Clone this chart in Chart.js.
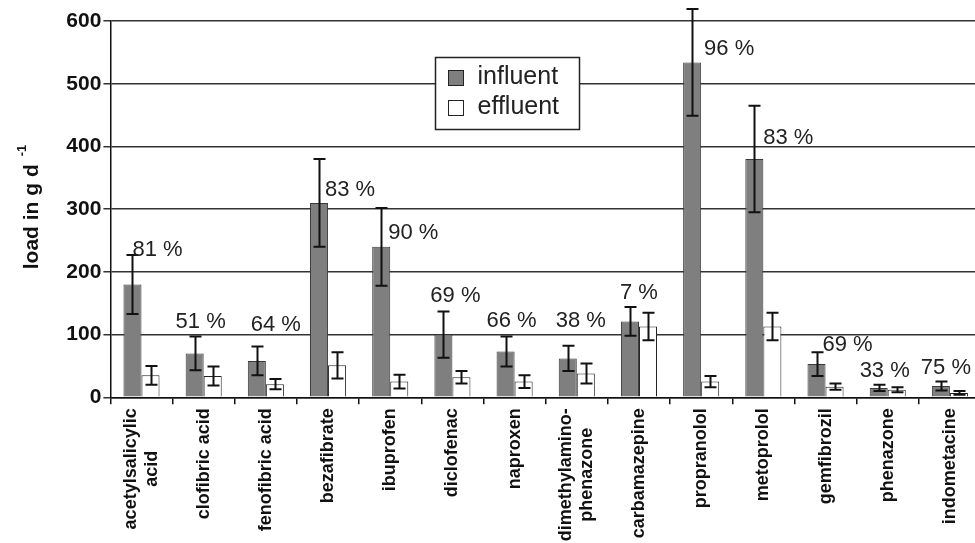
<!DOCTYPE html>
<html>
<head>
<meta charset="utf-8">
<script src="https://cdn.jsdelivr.net/npm/chart.js@4.4.1/dist/chart.umd.min.js"></script>
<style>
  html, body { margin: 0; padding: 0; background: #fff; overflow: hidden; }
  canvas { display: block; }
</style>
</head>
<body>
<canvas id="chart" width="981" height="543"></canvas>
<script>
// Daily loads (g/d) of pharmaceuticals in sewage treatment plant influent and effluent
const compounds = [
  ['acetylsalicylic', 'acid'], 'clofibric acid', 'fenofibric acid', 'bezafibrate',
  'ibuprofen', 'diclofenac', 'naproxen', ['dimethylamino-', 'phenazone'],
  'carbamazepine', 'propranolol', 'metoprolol', 'gemfibrozil', 'phenazone', 'indometacine'
];
const influent    = [180, 70, 58, 310, 240, 100, 73, 62, 121, 534, 380, 53, 15, 18];
const influentSd  = [ 47, 27, 23,  70,  62,  37, 24, 20,  23,  85,  85, 19,  5,  7];
const effluent    = [ 35, 34, 21,  51,  25,  32, 25, 38, 113,  25, 113, 17, 12,  7];
const effluentSd  = [ 15, 15,  8,  21,  11,  10, 10, 16,  22,   9,  22,  5,  4,  3];
const removal     = [ 81, 51, 64,  83,  90,  69, 66, 38,   7,  96,  83, 69, 33, 75];
const yTicks      = [0, 100, 200, 300, 400, 500, 600];

// placement of each removal label relative to the influent bar / top of its error bar
const removalLabelOffsets = [
  [25, -5], [6, -15], [19, -22], [31, 31], [32, 25], [12, -15], [6, -16],
  [13, -25], [9, -14], [37, 40], [34, 32], [31, -7], [6, -14], [5, -14]
];

const FONT = "'Liberation Sans', Arial, Helvetica, sans-serif";

// influent bars: grey with slightly lighter edges
function influentFill(context) {
  const el = context.element;
  if (!el || !isFinite(el.x) || !isFinite(el.width)) return '#7f7f7f';
  const g = context.chart.ctx.createLinearGradient(el.x - el.width / 2, 0, el.x + el.width / 2, 0);
  g.addColorStop(0, '#a4a4a4');
  g.addColorStop(0.2, '#848484');
  g.addColorStop(0.5, '#787878');
  g.addColorStop(0.8, '#848484');
  g.addColorStop(1, '#a4a4a4');
  return g;
}

const errorBars = {
  id: 'errorBars',
  afterDatasetsDraw(chart) {
    const { ctx } = chart;
    const y = chart.scales.y;
    const errs = [influentSd, effluentSd];
    ctx.save();
    ctx.strokeStyle = '#111';
    ctx.lineWidth = 2;
    chart.data.datasets.forEach((ds, di) => {
      const meta = chart.getDatasetMeta(di);
      meta.data.forEach((bar, i) => {
        const v = ds.data[i], e = errs[di][i];
        const top = y.getPixelForValue(v + e);
        const bot = y.getPixelForValue(Math.max(0, v - e));
        const x = Math.round(bar.x) + 0.5;
        ctx.beginPath();
        ctx.moveTo(x, top); ctx.lineTo(x, bot);
        ctx.moveTo(x - 6, top); ctx.lineTo(x + 6, top);
        ctx.moveTo(x - 6, bot); ctx.lineTo(x + 6, bot);
        ctx.stroke();
      });
    });
    ctx.restore();
  }
};

const removalLabels = {
  id: 'removalLabels',
  afterDatasetsDraw(chart) {
    const { ctx } = chart;
    const y = chart.scales.y;
    const meta = chart.getDatasetMeta(0);
    ctx.save();
    ctx.font = `22px ${FONT}`;
    ctx.fillStyle = '#222';
    ctx.textAlign = 'center';
    ctx.textBaseline = 'middle';
    removal.forEach((r, i) => {
      const bar = meta.data[i];
      const [dx, dy] = removalLabelOffsets[i];
      const top = y.getPixelForValue(influent[i] + influentSd[i]);
      ctx.fillText(`${r} %`, bar.x + dx, top + dy);
    });
    ctx.restore();
  }
};

const boxedLegend = {
  id: 'boxedLegend',
  afterDraw(chart) {
    const { ctx } = chart;
    const box = { x: 435.5, y: 57.5, w: 144, h: 72 };
    ctx.save();
    ctx.fillStyle = '#fff';
    ctx.fillRect(box.x, box.y, box.w, box.h);
    ctx.strokeStyle = '#222';
    ctx.lineWidth = 1.5;
    ctx.strokeRect(box.x, box.y, box.w, box.h);
    ctx.font = `25px ${FONT}`;
    ctx.textBaseline = 'middle';
    ctx.textAlign = 'left';
    const swatches = ['#7f7f7f', '#ffffff'];
    chart.data.datasets.forEach((ds, i) => {
      const cy = box.y + 20 + i * 30;
      ctx.fillStyle = swatches[i];
      ctx.fillRect(box.x + 13, cy - 7, 15, 15);
      ctx.strokeStyle = '#222';
      ctx.lineWidth = 1;
      ctx.strokeRect(box.x + 13, cy - 7, 15, 15);
      ctx.fillStyle = '#222';
      ctx.fillText(ds.label, box.x + 42, cy);
    });
    ctx.restore();
  }
};

const axisTitle = {
  id: 'axisTitle',
  afterDraw(chart) {
    const { ctx } = chart;
    const main = 'load in g d';
    const sup = '-1';
    ctx.save();
    ctx.fillStyle = '#111';
    ctx.font = `bold 21px ${FONT}`;
    const w1 = ctx.measureText(main).width;
    ctx.font = `bold 13px ${FONT}`;
    const w2 = ctx.measureText(sup).width;
    const gap = 8;
    const total = w1 + gap + w2;
    const cy = 207;
    ctx.translate(38, cy + total / 2);
    ctx.rotate(-Math.PI / 2);
    ctx.textAlign = 'left';
    ctx.textBaseline = 'alphabetic';
    ctx.font = `bold 21px ${FONT}`;
    ctx.fillText(main, 0, 0);
    ctx.font = `bold 13px ${FONT}`;
    ctx.fillText(sup, w1 + gap, -12);
    ctx.restore();
  }
};

const categoryLabels = {
  id: 'categoryLabels',
  afterDraw(chart) {
    const { ctx } = chart;
    const x = chart.scales.x;
    const lineH = 21;
    ctx.save();
    ctx.font = `bold 18px ${FONT}`;
    ctx.fillStyle = '#111';
    ctx.textAlign = 'center';
    ctx.textBaseline = 'middle';
    chart.data.labels.forEach((lab, i) => {
      const lines = Array.isArray(lab) ? lab : [lab];
      const maxW = Math.max(...lines.map(l => ctx.measureText(l).width));
      const cx = x.getPixelForTick(i);
      const cy = x.top + 11 + maxW / 2;
      ctx.save();
      ctx.translate(cx, cy);
      ctx.rotate(-Math.PI / 2);
      lines.forEach((l, j) => {
        ctx.fillText(l, 0, (j - (lines.length - 1) / 2) * lineH);
      });
      ctx.restore();
    });
    ctx.restore();
  }
};

new Chart(document.getElementById('chart'), {
  type: 'bar',
  data: {
    labels: compounds,
    datasets: [
      {
        label: 'influent',
        data: influent,
        backgroundColor: influentFill,
        borderColor: '#3a3a3a',
        borderWidth: 1,
        categoryPercentage: 0.58,
        barPercentage: 1.0
      },
      {
        label: 'effluent',
        data: effluent,
        backgroundColor: '#ffffff',
        borderColor: '#222',
        borderWidth: 1,
        categoryPercentage: 0.58,
        barPercentage: 1.0
      }
    ]
  },
  options: {
    responsive: false,
    animation: false,
    devicePixelRatio: 1,
    layout: { padding: { top: 21, right: 0, bottom: 0, left: 0 } },
    plugins: {
      legend: { display: false },
      tooltip: { enabled: false },
      title: { display: false }
    },
    scales: {
      x: {
        offset: true,
        grid: {
          offset: true,
          drawOnChartArea: false,
          drawTicks: true,
          tickLength: 7,
          color: '#111',
          lineWidth: 1.5
        },
        border: { display: true, color: '#111', width: 1.5 },
        ticks: { display: false },
        afterFit(scale) { scale.height = 145.7; }
      },
      y: {
        min: 0,
        max: 600,
        afterBuildTicks(scale) { scale.ticks = yTicks.map(v => ({ value: v })); },
        grid: {
          color: '#333',
          lineWidth: 1.5,
          drawTicks: true,
          tickLength: 7
        },
        border: { display: true, color: '#111', width: 1.5 },
        ticks: {
          color: '#111',
          padding: 2,
          font: { family: FONT, size: 21, weight: 'bold' }
        },
        afterFit(scale) { scale.width = 110.4; }
      }
    }
  },
  plugins: [errorBars, removalLabels, boxedLegend, axisTitle, categoryLabels]
});
</script>
</body>
</html>
